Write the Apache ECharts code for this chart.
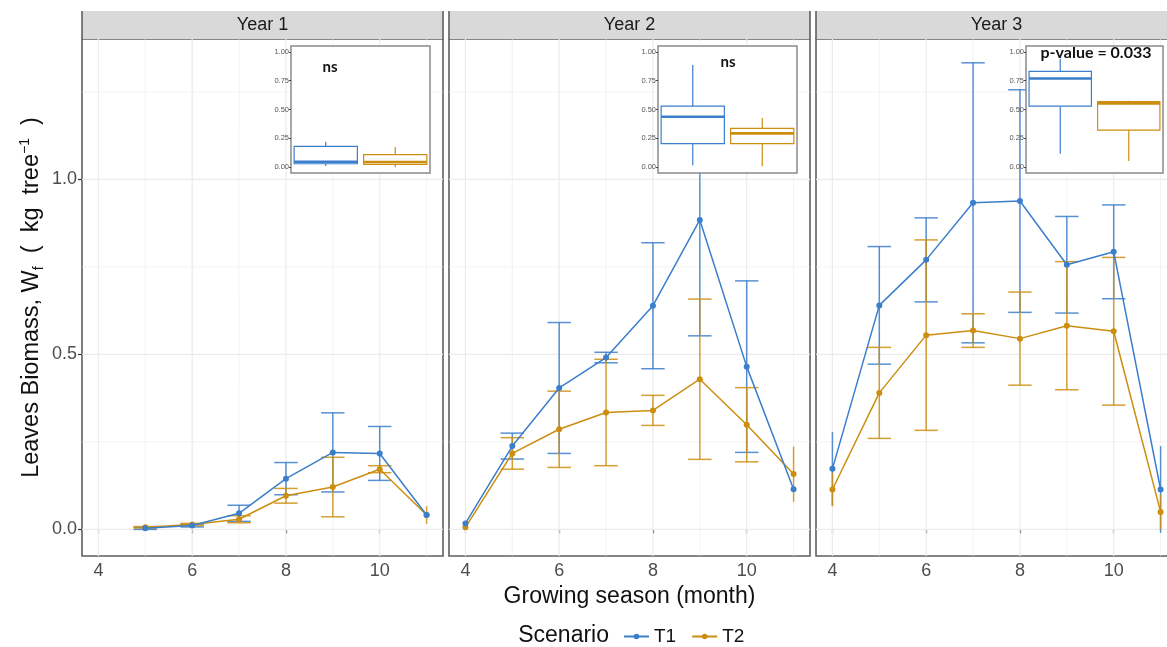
<!DOCTYPE html>
<html>
<head>
<meta charset="utf-8">
<script src="https://cdn.jsdelivr.net/npm/echarts@6/dist/echarts.min.js"></script>
<style>html,body{margin:0;padding:0;background:#fff;}#c{width:1167px;height:647px;}</style>
</head>
<body>
<div id="c"></div>
<script>
// ---------------- data ----------------
const yearNames = ['Year 1', 'Year 2', 'Year 3'];
const months1 = [5, 6, 7, 8, 9, 10, 11];
const months2 = [4, 5, 6, 7, 8, 9, 10, 11];
const months3 = [4, 5, 6, 7, 8, 9, 10, 11];

const y1T1 = [0.003, 0.011, 0.046, 0.145, 0.220, 0.217, 0.041];
const y1T1sd = [0.003, 0.004, 0.023, 0.046, 0.113, 0.077, 0.008];
const y1T2 = [0.006, 0.014, 0.029, 0.096, 0.121, 0.172, 0.041];
const y1T2sd = [0.002, 0.003, 0.010, 0.021, 0.085, 0.010, 0.025];

const y2T1 = [0.017, 0.238, 0.404, 0.491, 0.639, 0.884, 0.465, 0.115];
const y2T1sd = [0.005, 0.037, 0.187, 0.015, 0.180, 0.331, 0.245, 0.005];
const y2T2 = [0.006, 0.217, 0.286, 0.334, 0.340, 0.429, 0.299, 0.158];
const y2T2sd = [0.004, 0.045, 0.109, 0.152, 0.043, 0.229, 0.106, 0.079];

const y3T1 = [0.173, 0.640, 0.770, 0.933, 0.938, 0.756, 0.793, 0.114];
const y3T1sd = [0.105, 0.168, 0.120, 0.400, 0.318, 0.138, 0.134, 0.124];
const y3T2 = [0.114, 0.390, 0.555, 0.568, 0.545, 0.582, 0.566, 0.050];
const y3T2sd = [0.048, 0.130, 0.272, 0.048, 0.133, 0.183, 0.211, 0.050];

// inset boxplots: [min, Q1, median, Q3, max]
const box1T1 = [0.010, 0.030, 0.047, 0.180, 0.220];
const box1T2 = [0.000, 0.025, 0.045, 0.110, 0.175];
const box2T1 = [0.017, 0.204, 0.437, 0.530, 0.885];
const box2T2 = [0.009, 0.204, 0.293, 0.336, 0.426];
const box3T1 = [0.116, 0.529, 0.769, 0.831, 0.939];
const box3T2 = [0.055, 0.322, 0.553, 0.569, 0.575];

const insetLabels = ['ns', 'ns', 'p-value = 0.033'];
const scenarios = ['T1', 'T2'];

const xTicks = [4, 6, 8, 10];
const xMinor = [5, 7, 9, 11];
const yTicks = [0, 0.5, 1.0];
const yMinor = [0.25, 0.75, 1.25];
const insetTicks = [0, 0.25, 0.5, 0.75, 1.0];

// ---------------- style / layout ----------------
const C1 = '#3B7ECB', C2 = '#CC8E10';
const BORDER = '#5f5f5f';
const FONT = 'Liberation Sans, Arial, sans-serif';
const panelLeft = [82, 449, 816];
const panelW = 361, panelTop = 39, panelH = 517;
const insetLeft = [291, 658, 1026];
const insetW = [139, 139, 137], insetTop = 46, insetH = 127;
const labelPos = [[330, 67], [728, 62], [1096, 53]];

const months = [months1, months2, months3];
const t1 = [y1T1, y2T1, y3T1], t1sd = [y1T1sd, y2T1sd, y3T1sd];
const t2 = [y1T2, y2T2, y3T2], t2sd = [y1T2sd, y2T2sd, y3T2sd];
const boxes = [[box1T1, box1T2], [box2T1, box2T2], [box3T1, box3T2]];

const chart = echarts.init(document.getElementById('c'), null, {renderer: 'canvas'});

const grids = [], xAxes = [], yAxes = [], series = [], graphics = [];

function gridRender(params, api) {
  const cs = params.coordSys;
  const kind = api.value(0), v = api.value(1), major = api.value(2);
  const w = major ? 1.2 : 0.6;
  if (kind === 0) {
    const x = api.coord([v, 0])[0];
    return {type: 'line', shape: {x1: x, y1: cs.y, x2: x, y2: cs.y + cs.height}, style: {stroke: '#EBEBEB', lineWidth: w}, silent: true};
  }
  const y = api.coord([5, v])[1];
  return {type: 'line', shape: {x1: cs.x, y1: y, x2: cs.x + cs.width, y2: y}, style: {stroke: '#EBEBEB', lineWidth: w}, silent: true};
}

function errRender(params, api) {
  const m = api.value(0), mean = api.value(1), sd = api.value(2);
  const color = api.visual('color');
  const top = api.coord([m, mean + sd]), bot = api.coord([m, mean - sd]);
  const st = {stroke: color, lineWidth: 1.5, opacity: 0.85};
  const ch = [{type: 'line', shape: {x1: top[0], y1: top[1], x2: bot[0], y2: bot[1]}, style: st}];
  if (m > 4 && m < 11) {
    [mean + sd, mean - sd].forEach(v => {
      const l = api.coord([m - 0.25, v]), r = api.coord([m + 0.25, v]);
      ch.push({type: 'line', shape: {x1: l[0], y1: l[1], x2: r[0], y2: r[1]}, style: st});
    });
  }
  return {type: 'group', children: ch};
}

function boxRender(params, api) {
  const idx = api.value(0);
  const lo = api.value(1), q1 = api.value(2), med = api.value(3), q3 = api.value(4), hi = api.value(5);
  const color = idx === 0 ? C1 : C2;
  const band = api.size([1, 0])[0];
  const w = band * 0.91;
  const x = api.coord([idx, med])[0];
  const yLo = api.coord([idx, lo])[1], yQ1 = api.coord([idx, q1])[1], yMed = api.coord([idx, med])[1];
  const yQ3 = api.coord([idx, q3])[1], yHi = api.coord([idx, hi])[1];
  const st = {stroke: color, lineWidth: 1.2};
  return {type: 'group', children: [
    {type: 'line', shape: {x1: x, y1: yQ3, x2: x, y2: yHi}, style: st},
    {type: 'line', shape: {x1: x, y1: yQ1, x2: x, y2: yLo}, style: st},
    {type: 'rect', shape: {x: x - w / 2, y: yQ3, width: w, height: yQ1 - yQ3}, style: {fill: '#fff', stroke: color, lineWidth: 1.2}},
    {type: 'line', shape: {x1: x - w / 2, y1: yMed, x2: x + w / 2, y2: yMed}, style: {stroke: color, lineWidth: 2.6}}
  ]};
}

for (let i = 0; i < 3; i++) {
  grids.push({left: panelLeft[i], top: panelTop, width: panelW, height: panelH, show: true,
    outerBoundsMode: 'none', containLabel: false,
    backgroundColor: 'transparent', borderColor: BORDER, borderWidth: 1.6});
  xAxes.push({type: 'value', gridIndex: i, min: 3.65, max: 11.35,
    axisLine: {show: false}, splitLine: {show: false},
    axisTick: {show: true, customValues: xTicks, length: 4, lineStyle: {color: '#333', width: 1.2}},
    axisLabel: {show: true, customValues: xTicks, fontSize: 18, color: '#4D4D4D', fontFamily: FONT, margin: 6},
    name: i === 1 ? 'Growing season (month)' : '', nameLocation: 'middle', nameGap: 28,
    nameTextStyle: {fontSize: 23, color: '#111', fontFamily: FONT}});
  yAxes.push({type: 'value', gridIndex: i, min: -0.076, max: 1.401,
    axisLine: {show: false}, splitLine: {show: false},
    axisTick: {show: i === 0, customValues: yTicks, length: 4, lineStyle: {color: '#333', width: 1.2}},
    axisLabel: {show: i === 0, customValues: yTicks, fontSize: 18, color: '#4D4D4D', fontFamily: FONT, margin: 5,
      formatter: v => v.toFixed(1)},
    name: i === 0 ? 'Leaves Biomass, W{sub|f}  (  kg  tree{sup|\u22121}  )' : '',
    nameLocation: 'middle', nameRotate: 90, nameGap: 36,
    nameTextStyle: {fontSize: 23.5, color: '#111', fontFamily: FONT, lineHeight: 28,
      rich: {sub: {fontSize: 14, fontFamily: FONT, color: '#111', verticalAlign: 'bottom', lineHeight: 14},
             sup: {fontSize: 14, fontFamily: FONT, color: '#111', verticalAlign: 'top', lineHeight: 14}}}});

  // gridlines
  const gl = [];
  xTicks.forEach(v => gl.push([0, v, 1]));
  xMinor.forEach(v => gl.push([0, v, 0]));
  yTicks.forEach(v => gl.push([1, v, 1]));
  yMinor.forEach(v => gl.push([1, v, 0]));
  series.push({type: 'custom', xAxisIndex: i, yAxisIndex: i, renderItem: gridRender, data: gl, z: 1, silent: true});

  // lines (first, so legend takes their icon)
  series.push({type: 'line', name: 'T2', xAxisIndex: i, yAxisIndex: i, z: 4, symbol: 'circle', symbolSize: 6,
    itemStyle: {color: C2}, lineStyle: {color: C2, width: 1.5}, data: months[i].map((m, k) => [m, t2[i][k]])});
  series.push({type: 'line', name: 'T1', xAxisIndex: i, yAxisIndex: i, z: 4, symbol: 'circle', symbolSize: 6,
    itemStyle: {color: C1}, lineStyle: {color: C1, width: 1.5}, data: months[i].map((m, k) => [m, t1[i][k]])});
  // error bars
  series.push({type: 'custom', xAxisIndex: i, yAxisIndex: i, renderItem: errRender, z: 3,
    itemStyle: {color: C1}, data: months[i].map((m, k) => [m, t1[i][k], t1sd[i][k]])});
  series.push({type: 'custom', xAxisIndex: i, yAxisIndex: i, renderItem: errRender, z: 3,
    itemStyle: {color: C2}, data: months[i].map((m, k) => [m, t2[i][k], t2sd[i][k]])});

  // strip
  graphics.push({type: 'rect', shape: {x: panelLeft[i], y: 11, width: panelW, height: 28}, style: {fill: '#D9D9D9'}, z: 5});
  graphics.push({type: 'line', shape: {x1: panelLeft[i], y1: 11, x2: panelLeft[i], y2: 39}, style: {stroke: BORDER, lineWidth: 1.6}, z: 6});
  graphics.push({type: 'line', shape: {x1: panelLeft[i] + panelW, y1: 11, x2: panelLeft[i] + panelW, y2: 39}, style: {stroke: BORDER, lineWidth: 1.6}, z: 6});
  graphics.push({type: 'text', x: panelLeft[i] + panelW / 2, y: 25, z: 6,
    style: {text: yearNames[i], fontSize: 18, fill: '#1A1A1A', fontFamily: FONT, align: 'center', verticalAlign: 'middle'}});
}

// insets
for (let i = 0; i < 3; i++) {
  const gi = 3 + i;
  grids.push({left: insetLeft[i], top: insetTop, width: insetW[i], height: insetH, show: true, z: 10,
    outerBoundsMode: 'none', containLabel: false,
    backgroundColor: '#fff', borderColor: '#8a8a8a', borderWidth: 1.5});
  xAxes.push({type: 'category', gridIndex: gi, data: scenarios, z: 11,
    axisLine: {show: false}, axisTick: {show: false}, axisLabel: {show: false}, splitLine: {show: false}});
  yAxes.push({type: 'value', gridIndex: gi, min: -0.05, max: 1.05, z: 11,
    axisLine: {show: false}, splitLine: {show: false},
    axisTick: {show: true, customValues: insetTicks, length: 2, lineStyle: {color: '#444'}},
    axisLabel: {show: true, customValues: insetTicks, fontSize: 7.5, color: '#555', fontFamily: FONT, margin: 2,
      formatter: v => v.toFixed(2)}});
  series.push({type: 'custom', xAxisIndex: gi, yAxisIndex: gi, renderItem: boxRender, z: 12, silent: true,
    data: boxes[i].map((b, k) => [k].concat(b))});
  graphics.push({type: 'text', x: labelPos[i][0], y: labelPos[i][1], z: 20,
    style: {text: insetLabels[i], fontSize: i === 2 ? 16 : 15, fontWeight: 'bold', fill: '#111',
      fontFamily: 'Lato, Open Sans, sans-serif', align: 'center', verticalAlign: 'middle'}});
}

graphics.push({type: 'text', x: 609, y: 636, z: 20,
  style: {text: 'Scenario', fontSize: 23, fill: '#111', fontFamily: FONT, align: 'right', verticalAlign: 'middle'}});

chart.setOption({
  animation: false,
  grid: grids,
  xAxis: xAxes,
  yAxis: yAxes,
  series: series,
  graphic: graphics,
  legend: {data: scenarios, left: 618, top: 622, itemWidth: 25, itemHeight: 7, itemGap: 15,
    textStyle: {fontSize: 19, color: '#111', fontFamily: FONT}, selectedMode: false}
});
</script>
</body>
</html>
